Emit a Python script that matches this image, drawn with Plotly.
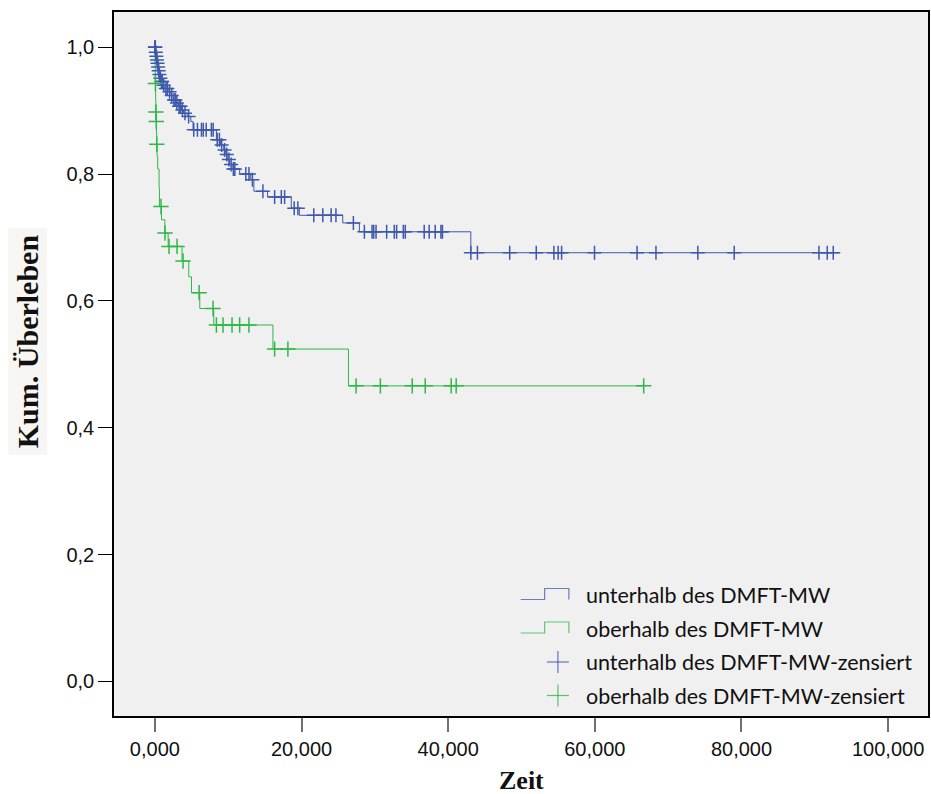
import numpy as np
import plotly.graph_objects as go

# Kaplan-Meier estimates: event times (Zeit) and survival after each event
below_event_t = [0.10, 0.18, 0.25, 0.32, 0.40, 0.48, 0.58, 0.70, 0.85, 1.10, 1.40, 1.80,
                 2.20, 2.50, 2.90, 3.20, 3.60, 3.90, 4.40, 4.90, 5.20, 8.39, 8.94, 9.39,
                 9.60, 9.96, 10.20, 10.65, 11.56, 13.06, 13.50, 15.37, 18.60, 19.70,
                 25.62, 27.89, 43.09]
below_event_s = [0.992, 0.986, 0.980, 0.975, 0.969, 0.963, 0.957, 0.951, 0.946, 0.940,
                 0.935, 0.930, 0.924, 0.917, 0.912, 0.907, 0.901, 0.896, 0.891, 0.883,
                 0.870, 0.854, 0.846, 0.838, 0.831, 0.823, 0.815, 0.808, 0.800, 0.791,
                 0.773, 0.764, 0.746, 0.735, 0.723, 0.709, 0.676]
below_end_t = 93.43
below_censor_t = [0.0, 0.03, 0.06, 0.12, 0.20, 0.28, 0.36, 0.44, 0.52, 0.62, 0.75, 0.90,
                  1.00, 1.20, 1.50, 1.70, 2.00, 2.30, 2.60, 2.80, 3.00, 3.30, 3.50, 3.75,
                  4.10, 4.60, 5.30, 5.80, 6.35, 6.60, 7.00, 7.70, 7.95, 8.50, 8.80, 9.10,
                  9.50, 9.80, 10.10, 10.40, 10.70, 10.90, 12.40, 12.83, 13.30, 14.73,
                  16.33, 17.24, 17.69, 19.00, 19.50, 21.67, 22.90, 24.04, 24.69, 27.07,
                  28.57, 29.62, 29.84, 30.16, 31.61, 32.65, 32.97, 33.88, 34.15, 36.73,
                  37.41, 38.23, 39.01, 39.22, 43.09, 43.99, 48.39, 52.01, 54.42, 55.00,
                  55.47, 59.96, 65.76, 68.34, 74.05, 79.01, 90.57, 91.70, 92.52]

above_event_t = [0.02, 0.05, 0.10, 0.13, 0.17, 0.21, 0.24, 0.30, 0.38, 0.57, 0.62, 0.90,
                 1.36, 1.81, 3.70, 4.62, 4.99, 6.12, 8.03, 16.10, 26.40]
above_event_s = [0.971, 0.943, 0.918, 0.898, 0.883, 0.865, 0.847, 0.828, 0.808, 0.778,
                 0.749, 0.728, 0.707, 0.686, 0.663, 0.638, 0.613, 0.588, 0.562, 0.524,
                 0.466]
above_end_t = 66.67
above_censor_t = [0.07, 0.14, 0.19, 0.26, 0.83, 1.38, 1.93, 3.02, 3.84, 6.03, 7.93, 8.39,
                  9.29, 10.52, 11.56, 12.83, 16.33, 18.14, 27.44, 30.75, 35.10, 36.87,
                  40.41, 41.09, 66.67]

group_names = ["unterhalb des DMFT-MW", "oberhalb des DMFT-MW"]
censor_suffix = "-zensiert"
x_ticks = [0, 20, 40, 60, 80, 100]
y_ticks = [0.0, 0.2, 0.4, 0.6, 0.8, 1.0]

BLUE = "#3e58ac"
GREEN = "#2eb848"


def step_curve(ev_t, ev_s, end_t):
    xs = [0.0] + list(ev_t) + [end_t]
    ys = [1.0] + list(ev_s) + [ev_s[-1]]
    return xs, ys


def survival_at(ev_t, ev_s, times):
    idx = np.searchsorted(np.array(ev_t), np.array(times), side="right")
    s = np.concatenate([[1.0], np.array(ev_s)])
    return s[idx]


fig = go.Figure()
for ev_t, ev_s, end_t, cens, col in [
    (below_event_t, below_event_s, below_end_t, below_censor_t, BLUE),
    (above_event_t, above_event_s, above_end_t, above_censor_t, GREEN),
]:
    xs, ys = step_curve(ev_t, ev_s, end_t)
    fig.add_trace(go.Scatter(x=xs, y=ys, mode="lines", line=dict(color=col, width=1, shape="hv"),
                             showlegend=False, hoverinfo="skip"))
for ev_t, ev_s, cens, col, size in [
    (below_event_t, below_event_s, below_censor_t, BLUE, 10),
    (above_event_t, above_event_s, above_censor_t, GREEN, 11),
]:
    fig.add_trace(go.Scatter(x=cens, y=survival_at(ev_t, ev_s, cens), mode="markers",
                             marker=dict(symbol="cross-thin", size=size,
                                         line=dict(color=col, width=1.5)),
                             showlegend=False, hoverinfo="skip"))

# plot area in pixels
L, R, T, B = 114, 930, 12, 716
W, H = R - L, B - T


def px(x):
    return (x - L) / W


def py(y):
    return (B - y) / H


shapes = []
# backdrop behind the vertical axis title
shapes.append(dict(type="rect", xref="paper", yref="paper", x0=px(8), x1=px(47), y0=py(455), y1=py(228),
                   fillcolor="#f7f6f3", line=dict(width=0), layer="below"))
# legend glyphs
legend_rows = [595, 628.5, 662, 695.5]
for row, col in zip(legend_rows[:2], [BLUE, GREEN]):
    lo, hi = row + 4.5, row - 6.5
    path = (f"M {px(521.7)} {py(lo)} L {px(545.7)} {py(lo)} L {px(545.7)} {py(hi)} "
            f"L {px(570)} {py(hi)} L {px(570)} {py(lo)}")
    shapes.append(dict(type="path", xref="paper", yref="paper", path=path,
                       line=dict(color=col, width=1.2), opacity=0.75))
for row, col in zip(legend_rows[2:], [BLUE, GREEN]):
    cx = 559
    shapes.append(dict(type="line", xref="paper", yref="paper", x0=px(cx - 11), x1=px(cx + 11),
                       y0=py(row), y1=py(row), line=dict(color=col, width=1.2), opacity=0.8))
    shapes.append(dict(type="line", xref="paper", yref="paper", x0=px(cx), x1=px(cx),
                       y0=py(row - 11), y1=py(row + 11), line=dict(color=col, width=1.2), opacity=0.8))

annotations = []
legend_labels = group_names + [n + censor_suffix for n in group_names]
for row, lab in zip(legend_rows, legend_labels):
    annotations.append(dict(text=lab, xref="paper", yref="paper", x=px(585), y=py(row),
                            xanchor="left", yanchor="middle", showarrow=False,
                            font=dict(family="Lato", size=21.5, color="#111")))
annotations.append(dict(text="<b>Kum. Überleben</b>", xref="paper", yref="paper", x=px(27), y=py(341),
                        xanchor="center", yanchor="middle", textangle=-90, showarrow=False,
                        font=dict(family="Liberation Serif", size=30, color="#111")))
annotations.append(dict(text="<b>Zeit</b>", xref="paper", yref="paper", x=px(522), y=py(780),
                        xanchor="center", yanchor="middle", showarrow=False,
                        font=dict(family="Liberation Serif", size=26, color="#111")))

x_per_px = 20 / 147.0
y_per_px = 0.2 / 126.8
fig.update_layout(
    width=931, height=794,
    margin=dict(l=L, r=931 - R, t=T, b=794 - B),
    paper_bgcolor="white", plot_bgcolor="#f0f0f0",
    separators=",.",
    shapes=shapes, annotations=annotations,
    showlegend=False,
    xaxis=dict(range=[0 - (155 - L) * x_per_px, 0 + (R - 155) * x_per_px],
               tickvals=x_ticks, tickformat=".3f", ticks="outside", ticklen=14, tickwidth=2,
               tickcolor="#707070", showline=True, mirror=True, linecolor="black", linewidth=1.5,
               showgrid=False, zeroline=False,
               tickfont=dict(family="Liberation Sans", size=20, color="#111")),
    yaxis=dict(range=[0 - (B - 681.3) * y_per_px, 0 + (681.3 - T) * y_per_px],
               tickvals=y_ticks, tickformat=".1f", ticks="outside", ticklen=14, tickwidth=1.3,
               tickcolor="black", showline=True, mirror=True, linecolor="black", linewidth=1.5,
               showgrid=False, zeroline=False,
               tickfont=dict(family="Liberation Sans", size=20, color="#111")),
)

fig.write_html("out.html")
